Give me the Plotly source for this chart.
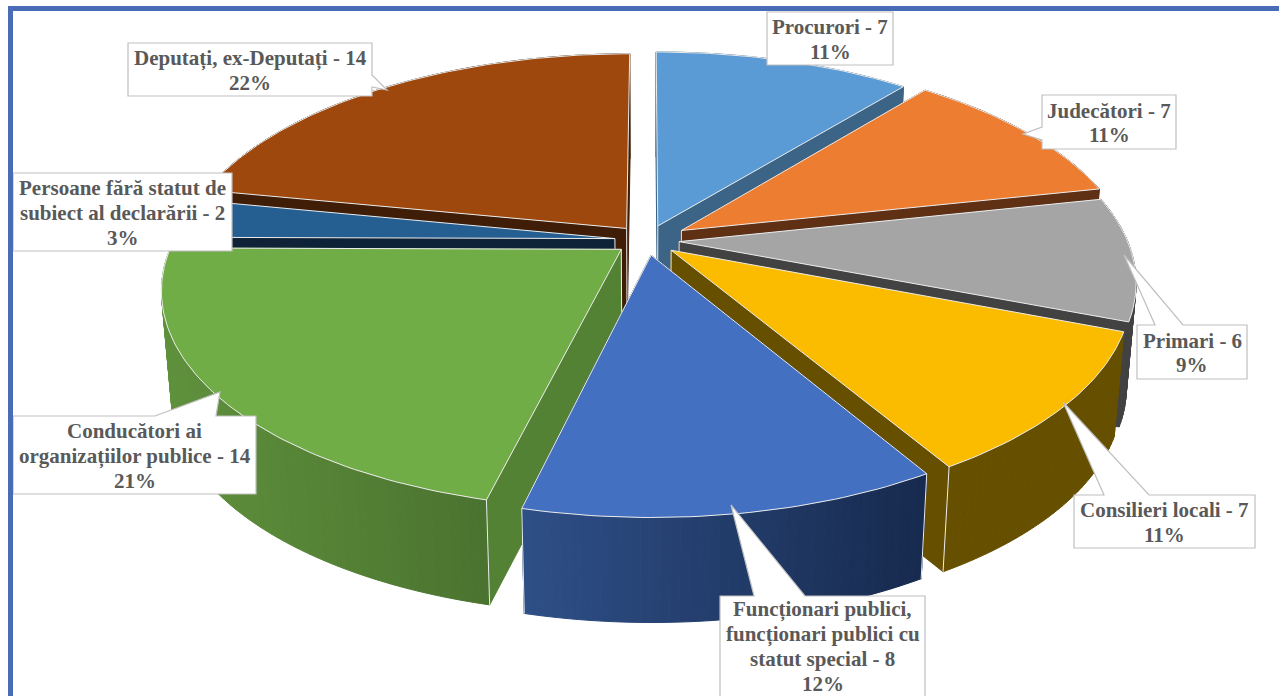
import math
import plotly.graph_objects as go

# ---- data ----
categories = ["Procurori", "Judecători", "Primari", "Consilieri locali",
              "Funcționari publici, funcționari publici cu statut special",
              "Conducători ai organizațiilor publice",
              "Persoane fără statut de subiect al declarării",
              "Deputați, ex-Deputați"]
counts = [7, 7, 6, 7, 8, 14, 2, 14]
percents = [11, 11, 9, 11, 12, 21, 3, 22]
# unrounded shares
shares = [11, 11, 9.4, 10.6, 12, 21, 3, 22]
label_lines = [
    ["Procurori - 7"],
    ["Judecători - 7"],
    ["Primari - 6"],
    ["Consilieri locali - 7"],
    ["Funcționari publici,", "funcționari publici cu", "statut special - 8"],
    ["Conducători ai", "organizațiilor publice - 14"],
    ["Persoane fără statut de", "subiect al declarării - 2"],
    ["Deputați, ex-Deputați - 14"],
]

# ---- styles ----
top_colors = ["#5B9BD5", "#ED7D31", "#A5A5A5", "#FBBC00", "#4370C0", "#70AD47", "#255E91", "#9E480E"]
cut_colors = ["#3B6487", "#5F3013", "#424242", "#665000", "#172A4E", "#548235", "#0F2338", "#3F1D06"]
rim_from = ["#3B6487", "#5F3013", "#424242", "#665000", "#172A4E", "#4B7330", "#0F2338", "#3F1D06"]
rim_to = ["#3B6487", "#5F3013", "#424242", "#665000", "#2E4F87", "#5F913C", "#0F2338", "#3F1D06"]
pulls = [0.072, 0.09, 0.072, 0.072, 0.072, 0.072, 0.072, 0.072]
TEXT = "#595959"
BOX_LINE = "#BFBFBF"
FRAME = "#4A6BB5"

# ---- view of the disc (pixel layout) ----
CX, CY = 647, 240
KX, KY, PERSP = 448, 209.6, 0.178
DEPTH, SHRINK = 105, 0.98
STEP = 1.0
TWIST_A, TWIST_B = 1.2, 1.93
LINE_GAP = 24.7


def hex2rgb(c):
    return [int(c[i:i + 2], 16) for i in (1, 3, 5)]


def mix(a, b, t):
    ca, cb = hex2rgb(a), hex2rgb(b)
    return "rgb(%d,%d,%d)" % tuple(round(u + (v - u) * t) for u, v in zip(ca, cb))


def project(X, Y):
    d = 1 - PERSP * Y
    return CX + KX * X / d, CY + KY * Y / d


def drop(p):
    return CX + (p[0] - CX) * SHRINK, p[1] + DEPTH


def plan(a, r, off):
    t = math.radians(a)
    front = (1 - math.cos(t)) / 2
    t = math.radians(a - (TWIST_A + TWIST_B * math.sin(t)) * front)
    return off[0] + r * math.sin(t), off[1] - r * math.cos(t)


def poly(fig, pts, fill, line=None, width=1.0):
    xs = [p[0] for p in pts] + [pts[0][0]]
    ys = [p[1] for p in pts] + [pts[0][1]]
    fig.add_trace(go.Scatter(x=xs, y=ys, mode="lines", fill="toself", fillcolor=fill,
                             line=dict(color=line or fill, width=width),
                             hoverinfo="skip", showlegend=False))


def seg(fig, a, b, color="#EDEDED", width=1):
    fig.add_trace(go.Scatter(x=[a[0], b[0]], y=[a[1], b[1]], mode="lines",
                             line=dict(color=color, width=width),
                             hoverinfo="skip", showlegend=False))


fig = go.Figure()

total = sum(shares)
spans = []
acc = 0
for v in shares:
    spans.append((acc / total * 360, (acc + v) / total * 360))
    acc += v

# painter's order: farthest slice first
order = sorted(range(len(shares)),
               key=lambda i: -math.cos(math.radians(sum(spans[i]) / 2)))

for i in order:
    a0, a1 = spans[i]
    mid = (a0 + a1) / 2
    off = (pulls[i] * math.sin(math.radians(mid)), -pulls[i] * math.cos(math.radians(mid)))
    n = max(2, int((a1 - a0) / STEP))
    angs = [a0 + (a1 - a0) * j / n for j in range(n + 1)]
    apex = project(*off)
    rim = [project(*plan(a, 1, off)) for a in angs]
    xmin, xmax = min(p[0] for p in rim), max(p[0] for p in rim)

    def rim_quad(j):
        t = (0.5 * (rim[j][0] + rim[j + 1][0]) - xmin) / max(xmax - xmin, 1)
        col = mix(rim_to[i], rim_from[i], t)
        poly(fig, [rim[j], rim[j + 1], drop(rim[j + 1]), drop(rim[j])], col)

    back = [j for j in range(n) if -math.cos(math.radians((angs[j] + angs[j + 1]) / 2)) < 0]
    front = [j for j in range(n) if j not in back]
    for j in back:
        rim_quad(j)
    for p in (rim[0], rim[-1]):
        poly(fig, [apex, p, drop(p), drop(apex)], cut_colors[i])
    for j in front:
        rim_quad(j)
    for a, p in ((angs[0], rim[0]), (angs[-1], rim[-1])):
        if -math.cos(math.radians(a)) > 0.5:
            seg(fig, p, drop(p))
    seg(fig, apex, drop(apex))
    poly(fig, [apex] + rim, top_colors[i], line="#EDEDED", width=1)

# ---- callouts: box corners, then the tail (base A, tip, base B) on one side ----
boxes = [
    dict(x0=767, x1=893, y0=12, y1=65),
    dict(x0=1042, x1=1176, y0=95, y1=149, side="l", tail=[(1042, 140), (1023, 134), (1042, 127)]),
    dict(x0=1137, x1=1247, y0=325, y1=379, side="t", tail=[(1155, 325), (1124, 255), (1183, 325)]),
    dict(x0=1074, x1=1255, y0=495, y1=548, side="t", tail=[(1104, 495), (1063, 402), (1149, 495)]),
    dict(x0=720, x1=925, y0=596, y1=698, side="t", tail=[(754, 596), (731, 505), (805, 596)]),
    dict(x0=13, x1=256, y0=416, y1=494, side="t", tail=[(155, 416), (220, 392), (216, 416)]),
    dict(x0=13, x1=232, y0=173, y1=251),
    dict(x0=128, x1=372, y0=43, y1=96, side="r", tail=[(372, 75), (387, 90), (372, 87)]),
]

shapes = []
for b in boxes:
    x0, x1, y0, y1 = b["x0"], b["x1"], b["y0"], b["y1"]
    tail = b.get("tail", [])
    side = b.get("side")
    pts = [(x0, y0)]
    if side == "t":
        pts += tail
    pts.append((x1, y0))
    if side == "r":
        pts += tail
    pts.append((x1, y1))
    pts.append((x0, y1))
    if side == "l":
        pts += tail
    path = "M " + " L ".join("%g,%g" % p for p in pts) + " Z"
    shapes.append(dict(type="path", path=path, xref="x", yref="y", layer="above",
                       fillcolor="white", line=dict(color=BOX_LINE, width=1.2)))

# frame of the picture: left and top edges only
FRAME_W = 5
shapes.append(dict(type="line", xref="x", yref="y", x0=10.5, x1=10.5, y0=6, y1=696,
                   layer="above", line=dict(color=FRAME, width=FRAME_W)))
shapes.append(dict(type="line", xref="x", yref="y", x0=8, x1=1279, y0=8.5, y1=8.5,
                   layer="above", line=dict(color=FRAME, width=FRAME_W)))

annotations = []
for i, b in enumerate(boxes):
    lines = label_lines[i] + ["%d%%" % percents[i]]
    mid_y = (b["y0"] + b["y1"]) / 2 + (0 if len(lines) == 4 else 1)
    for k, s in enumerate(lines):
        annotations.append(dict(x=(b["x0"] + b["x1"]) / 2,
                                y=mid_y + (k - (len(lines) - 1) / 2) * LINE_GAP,
                                xref="x", yref="y", text="<b>%s</b>" % s, showarrow=False,
                                xanchor="center", yanchor="middle", align="center",
                                font=dict(family="Liberation Serif", size=21, color=TEXT)))

fig.update_layout(
    width=1279, height=696, autosize=False,
    margin=dict(l=0, r=0, t=0, b=0), showlegend=False,
    paper_bgcolor="white", plot_bgcolor="white",
    xaxis=dict(range=[0, 1279], visible=False, fixedrange=True),
    yaxis=dict(range=[696, 0], visible=False, fixedrange=True),
    shapes=shapes, annotations=annotations,
)

fig.write_html("out.html", config=dict(displayModeBar=False),
               post_script="document.body.style.margin='0';document.body.style.overflow='hidden';")
